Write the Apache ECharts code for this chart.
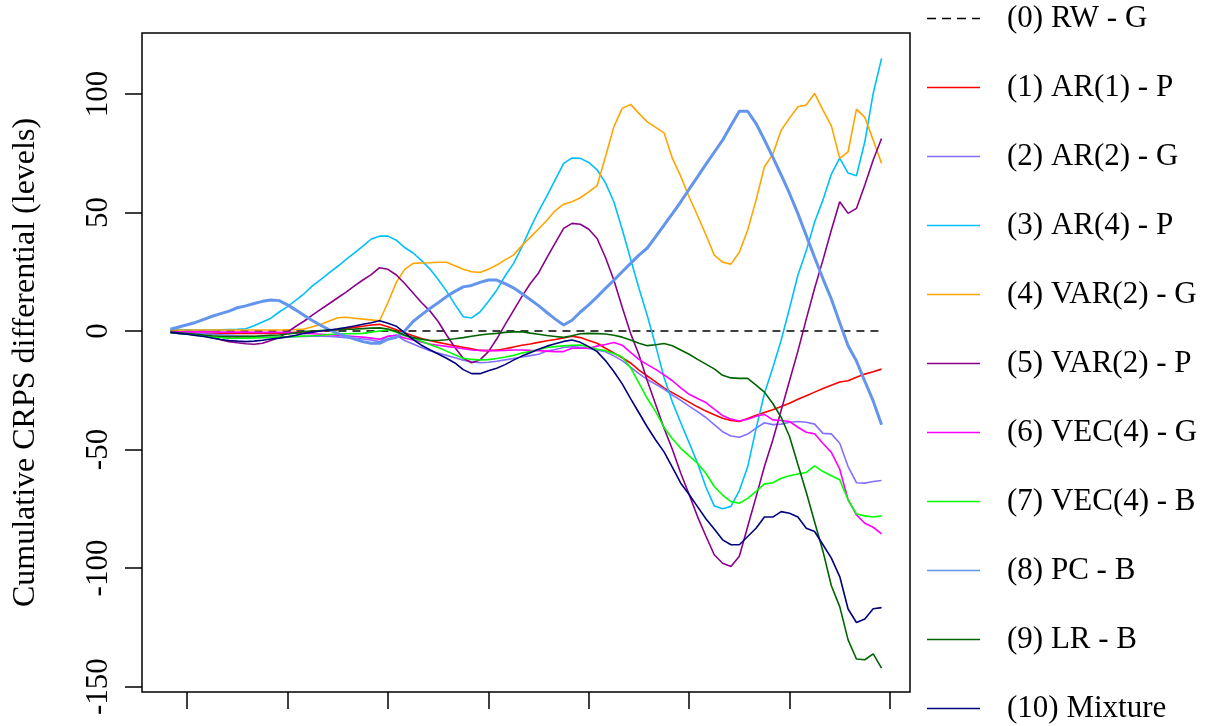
<!DOCTYPE html>
<html>
<head>
<meta charset="utf-8">
<script src="https://cdn.jsdelivr.net/npm/echarts@6/dist/echarts.min.js"></script>
<style>
html,body{margin:0;padding:0;background:#fff;}
#chart{width:1212px;height:726px;}
</style>
</head>
<body>
<div id="chart"></div>
<script>
// Series names (legend)
const seriesNames = ['(0) RW - G','(1) AR(1) - P','(2) AR(2) - G','(3) AR(4) - P','(4) VAR(2) - G','(5) VAR(2) - P','(6) VEC(4) - G','(7) VEC(4) - B','(8) PC - B','(9) LR - B','(10) Mixture'];
const seriesColors = ['#000000','#FF0000','#8470FF','#00BFFF','#FFA500','#8B008B','#FF00FF','#00FF00','#6495ED','#006400','#000080'];

// y-axis tick labels
const yTicks = [-150,-100,-50,0,50,100];
// x-axis tick positions (observation index, unlabeled)
const xTicks = [2,14,26,38,50,62,74,86];

// Cumulative CRPS differential per model (86 observations)
const rwG = [0,0,0,0,0,0,0,0,0,0, 0,0,0,0,0,0,0,0,0,0, 0,0,0,0,0,0,0,0,0,0, 0,0,0,0,0,0,0,0,0,0, 0,0,0,0,0,0,0,0,0,0, 0,0,0,0,0,0,0,0,0,0, 0,0,0,0,0,0,0,0,0,0, 0,0,0,0,0,0,0,0,0,0, 0,0,0,0,0,0];
const ar1P = [-0.3,-0.5,-0.7,-0.9,-1,-1,-1,-1,-1,-1, -1,-1,-1,-1,-0.8,-0.6,-0.4,-0.2,0,0.3, 0.5,1,1.5,2,2.5,2.8,1.8,0.5,-0.8,-2, -3.2,-4,-4.8,-5.5,-6.2,-6.9,-7.5,-8.2,-8.3,-8.1, -7.5,-6.8,-6,-5.5,-4.8,-4.1,-3.6,-3,-2.2,-2.8, -4,-5.2,-7.3,-9.3,-11.3,-13.5,-16.5,-19,-21.5,-24, -26,-28,-30,-32,-33.8,-35.3,-36.8,-37.8,-38.2,-36.9, -35.6,-34.4,-33.2,-31.9,-30.5,-28.8,-27.3,-25.8,-24.3,-22.9, -21.5,-21,-19.5,-18.2,-17.2,-16.1];
const ar2G = [-0.4,-0.6,-0.8,-1,-1.2,-1.4,-1.6,-1.8,-2,-2.2, -2.4,-2.5,-2.6,-2.6,-2.5,-2.4,-2.3,-2.2,-2.2,-2.3, -2.5,-2.8,-3.1,-3.4,-3.8,-4.5,-2.2,-1.8,-4,-5.5, -7,-8.3,-9.3,-10.3,-11.3,-12.3,-13,-13.4,-13.2,-12.8, -12.2,-11.6,-11,-10.4,-9.8,-8.5,-7.8,-7,-6.6,-6.9, -7.4,-8,-8.8,-10.5,-12.5,-15.3,-18,-20.5,-22.5,-24.5, -27,-29.3,-31.7,-34,-36.5,-39.5,-42.5,-44.3,-44.8,-43.5, -41,-38.7,-39.5,-39.3,-38.5,-38.2,-38.5,-39.3,-43.2,-43.4, -47.4,-57.2,-64,-64.2,-63.5,-63.1];
const ar4P = [0.7,0.6,0.5,0.4,0.4,0.4,0.5,0.6,0.7,0.9, 2.2,3.8,5.4,8,10.3,13,15.8,19.1,21.8,24.6, 27.3,30.2,32.9,35.8,38.8,40,40,38.3,35.2,32.9, 29.8,26.2,21.7,16.8,11.2,6,5.5,8,12.4,17.2, 23.2,28.4,35.4,43.3,50.5,57,63.8,70.7,73,72.8, 71.1,68,62.5,54.5,42.8,30.4,18,6.4,-6.2,-19.6, -30,-38.7,-47.2,-55.7,-65.8,-73.8,-75,-74,-67.3,-57.3, -41.2,-26.4,-15.5,-3.9,9.6,23.5,33.8,46,55.3,66.2, 72.9,66.6,65.5,79.8,100.2,115];
const var2G = [0.4,0.4,0.4,0.4,0.4,0.4,0.4,0.4,0.4,0.4, 0.4,0.4,0.4,0.4,0.5,0.6,0.8,1.8,2.8,4.2, 5.6,5.8,5.4,5,4.7,4.3,12,20.5,26,28.5, 28.7,28.8,29,29,27.5,26,25,24.7,26,27.8, 30,32,36,39.5,43,46.7,50.8,53.5,54.5,56.2, 58.7,61.3,73.5,86.1,93.9,95.6,91.8,88.2,85.9,83.6, 72.8,65.2,56.5,48.7,40.6,32,29,28.2,33.2,42.6, 55.2,69.3,74.5,84.7,89.8,94.6,95.3,100.2,93.2,86.5, 72.8,75.6,93.6,90.1,80.5,70.7];
const var2P = [-0.7,-1,-1.3,-1.7,-2,-2.8,-3.7,-4.5,-5,-5.4, -5.6,-5.2,-4,-2.8,-0.5,2,4.2,6.8,9.2,11.6, 14,16.4,19,21.5,23.8,26.7,26,23.6,20,16, 12,8.5,4,-1.7,-7,-11.5,-13.4,-12.2,-8.7,-3.4, 2.7,8.6,14.5,19.9,24.5,30.9,37.2,43.3,45.4,45, 42.9,39,31,21.5,10,-1,-10,-21,-31,-41, -50,-60,-69,-78.3,-86.5,-94.4,-98,-99.4,-95,-82.5, -70,-57.2,-46,-33.5,-21,-8.5,5,18,30,42.6, 54.5,49.6,51.7,61.6,72.1,81.2];
const vec4G = [-0.3,-0.3,-0.3,-0.4,-0.4,-0.4,-0.5,-0.5,-0.5,-0.5, -0.6,-0.6,-0.6,-0.6,-0.7,-0.8,-1,-1.2,-1.4,-1.6, -1.8,-2,-2.3,-2.6,-3,-3.5,-2.2,-1.8,-3,-3.8, -4.6,-5.5,-6,-6.5,-7,-7.5,-8,-8.2,-8.3,-8.3, -8.2,-8,-8,-8.2,-8.3,-8.5,-8.7,-8.7,-7.3,-7.3, -7.3,-6.4,-5.7,-4.9,-6,-9,-12,-14.2,-16.2,-18.5, -21,-24,-26.7,-28.5,-30.2,-33,-35.7,-37.2,-38,-37.2, -36,-35.2,-37.5,-37.8,-38.2,-40.6,-42.7,-43.4,-47.5,-51.2, -58.3,-71.2,-77.6,-81.1,-82.8,-85.6];
const vec4B = [-0.6,-1,-1.4,-1.8,-2.1,-2.5,-2.8,-3.1,-3.1,-3, -2.9,-2.8,-2.7,-2.6,-2.5,-2.3,-2.1,-2,-1.8,-1.5, -1.3,-1.2,-1.1,-1,-0.5,0,0.5,-0.5,-2,-3, -4.3,-5.7,-7,-8.5,-10,-11.5,-12,-12.2,-12.1,-11.6, -11,-10.3,-9.3,-8.7,-7.8,-7,-6.6,-6.3,-6,-5.9, -6.8,-7.7,-8.3,-9.5,-11,-15.5,-22,-28.5,-34,-40.7, -45.5,-49.5,-52.7,-55.8,-60,-65.6,-69.2,-72,-72.7,-70.6, -67.7,-64.5,-64,-62.1,-61.1,-60.3,-59.7,-56.9,-59.3,-61.1, -62.8,-71.2,-77.2,-78,-78.5,-78];
const pcB = [0.7,1.7,2.6,3.6,4.9,6.2,7.3,8.4,9.8,10.6, 11.6,12.5,13.1,12.8,11,8.8,6.5,4.3,2.3,0.5, -1,-2.3,-3.4,-4.5,-5.2,-5.2,-3.5,-2.7,0,4, 6.8,9.5,11.9,14.5,16.7,18.6,19.2,20.5,21.5,21.5, 20,18.2,15.8,13.3,10.7,7.8,5,2.5,4.5,8, 11,14.4,18,21.4,25,28.5,32,35,39.8,44.6, 49.5,54.5,59.8,65,70.3,75.4,80.5,86.7,92.7,92.7, 87.5,80.6,73.3,65.8,58,49.5,40.3,31,22,13.5, 3.5,-6.2,-12.7,-21.2,-29.5,-39.6];
const lrB = [-0.4,-0.8,-1.1,-1.4,-1.7,-2,-2.2,-2.4,-2.4,-2.3, -2.2,-2,-1.8,-1.7,-1.3,-0.8,-0.2,0,0.2,0.4, 0.5,0.7,0.8,1,1.2,1.3,0.8,-0.2,-1.8,-2.8, -3.5,-4,-4,-3.7,-3.3,-2.8,-2.2,-1.7,-1.3,-1, -0.6,-0.4,-0.3,-0.9,-1.4,-1.9,-2.3,-2.7,-2,-1.2, -1,-1.1,-1.3,-1.8,-2.6,-3.8,-5.2,-6.2,-5.8,-5.3, -6.2,-8,-9.8,-12,-14,-16,-18.7,-19.8,-20,-20, -22.8,-25.8,-30.6,-36.4,-44.5,-56.3,-68,-80.6,-93,-107.5, -116.3,-130.3,-138.4,-138.7,-136.2,-142.2];
const mixture = [-0.6,-1,-1.4,-1.9,-2.3,-3,-3.6,-4,-4.3,-4.5, -4.3,-3.9,-3.4,-3,-2.5,-1.8,-1,-0.5,0,0.4, 0.9,1.5,2.1,2.8,3.5,4.3,3.3,2,-0.8,-3.6, -6,-7.9,-9.7,-11.5,-13.5,-16.3,-18,-18,-16.8,-15.7, -14.2,-12.3,-10.6,-9.2,-7.7,-6.4,-5.4,-4.4,-3.8,-4.8, -6.6,-8.7,-12.5,-17.1,-22.3,-28.5,-34.5,-40.5,-46,-51, -57.5,-64.2,-69,-74.1,-79.2,-83.5,-88.1,-90.2,-90.2,-86.7, -83.2,-78.5,-78.5,-76.2,-76.9,-78.5,-83.2,-84.6,-90.2,-95.8, -103.6,-117.3,-123,-121.5,-117.2,-116.7];

const allValues = [rwG, ar1P, ar2G, ar4P, var2G, var2P, vec4G, vec4B, pcB, lrB, mixture];

const FONT = 'Liberation Serif';
const chart = echarts.init(document.getElementById('chart'), null, {renderer: 'canvas'});

const DASH_ICON = 'path://M0,0h9v10h-9z M15,0h9v10h-9z M30,0h9v10h-9z M45,0h8v10h-8z';

const series = allValues.map((vals, k) => ({
  name: seriesNames[k],
  type: 'line',
  data: vals.map((v, i) => [i, v]),
  symbol: 'none',
  animation: false,
  lineStyle: {
    color: seriesColors[k],
    width: k === 8 ? 3 : 1.6,
    type: k === 0 ? [8, 6] : 'solid'
  },
  itemStyle: {color: seriesColors[k]},
  z: 2 + k
}));

chart.setOption({
  backgroundColor: '#fff',
  animation: false,
  grid: {
    left: 142, right: 302, top: 33, bottom: 34,
    show: true, borderColor: '#000', borderWidth: 1.5,
    containLabel: false, outerBoundsMode: 'none'
  },
  legend: {
    orient: 'vertical',
    left: 927, top: 3, height: 723, padding: 0,
    itemWidth: 53, itemHeight: 1.6, itemGap: 38,
    symbolKeepAspect: false,
    data: seriesNames.map((n, k) => ({name: n, icon: k === 0 ? DASH_ICON : 'rect'})),
    textStyle: {fontFamily: FONT, fontSize: 31, color: '#000', padding: [0, 0, 0, 22]}
  },
  xAxis: {
    type: 'value', min: -3.4, max: 88.4,
    axisLine: {show: false, onZero: false},
    splitLine: {show: false},
    axisTick: {show: true, inside: false, length: 17, customValues: xTicks, lineStyle: {color: '#000', width: 1.5}},
    axisLabel: {show: false}
  },
  yAxis: {
    type: 'value', min: -152.3, max: 125.7,
    name: 'Cumulative CRPS differential (levels)',
    nameLocation: 'middle', nameGap: 100, nameRotate: 90,
    nameTextStyle: {fontFamily: FONT, fontSize: 32, color: '#000'},
    axisLine: {show: false, onZero: false},
    splitLine: {show: false},
    axisTick: {show: true, inside: false, length: 17, customValues: yTicks, lineStyle: {color: '#000', width: 1.5}},
    axisLabel: {show: true, rotate: 90, margin: 28, customValues: yTicks, fontFamily: FONT, fontSize: 31, color: '#000',
      formatter: v => String(v)}
  },
  series: series
});
</script>
</body>
</html>
